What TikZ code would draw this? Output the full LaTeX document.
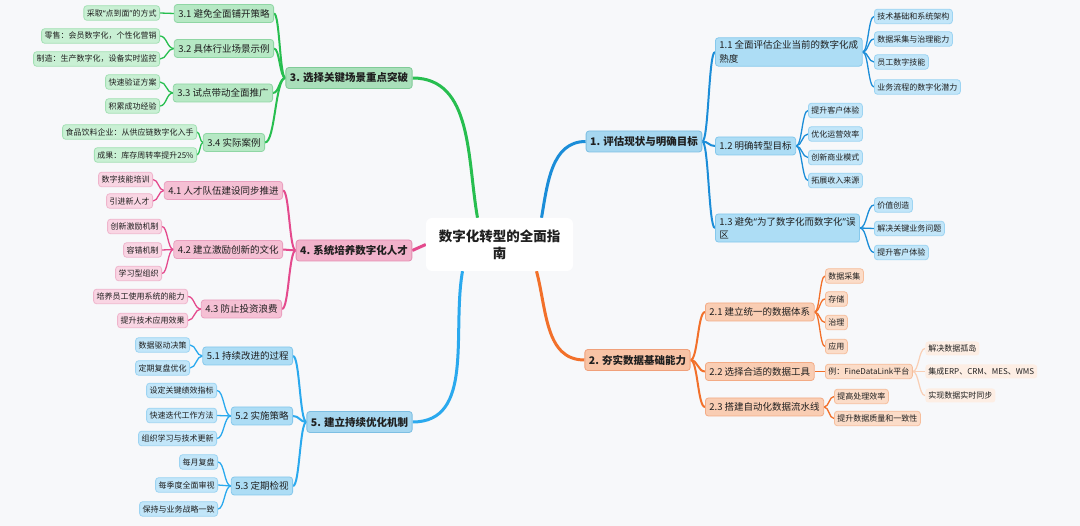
\documentclass[tikz,border=0pt]{standalone}
\usepackage{fontspec}
\setmainfont{Noto Sans CJK SC}
\newfontfamily\latinq{Noto Sans}
\newcommand\qopen{{\latinq “}}
\newcommand\qclose{{\latinq ”}}
\usetikzlibrary{calc,backgrounds}
\definecolor{bg}{HTML}{F7F8FA}
\definecolor{txt}{HTML}{1F1F1F}
% blue
\definecolor{bluL}{HTML}{1B8DD8}
\definecolor{bluA}{HTML}{A6D7F0}\definecolor{bluAb}{HTML}{7DBFE3}
\definecolor{bluB}{HTML}{ADDDF5}\definecolor{bluBb}{HTML}{85C8EC}
\definecolor{bluC}{HTML}{C2E6F9}\definecolor{bluCb}{HTML}{9DD4F2}
% light blue (branch 5)
\definecolor{lblL}{HTML}{2AA9EE}
\definecolor{lblA}{HTML}{A6D7F0}\definecolor{lblAb}{HTML}{7DBFE3}
\definecolor{lblB}{HTML}{ADDDF5}\definecolor{lblBb}{HTML}{85C8EC}
\definecolor{lblC}{HTML}{C2E6F9}\definecolor{lblCb}{HTML}{9DD4F2}
% orange
\definecolor{oraL}{HTML}{F2702A}
\definecolor{oraA}{HTML}{F8C3A5}\definecolor{oraAb}{HTML}{F0A07A}
\definecolor{oraB}{HTML}{F9CDB3}\definecolor{oraBb}{HTML}{F3AB85}
\definecolor{oraC}{HTML}{FBDCC8}\definecolor{oraCb}{HTML}{F6BE9C}
\definecolor{oraD}{HTML}{FDEEE4}\definecolor{oraDL}{HTML}{F9CFB5}
% green
\definecolor{grnL}{HTML}{27BE4F}
\definecolor{grnA}{HTML}{A9DFBA}\definecolor{grnAb}{HTML}{80CB97}
\definecolor{grnB}{HTML}{B6E8C4}\definecolor{grnBb}{HTML}{8FD6A4}
\definecolor{grnC}{HTML}{C9F0D4}\definecolor{grnCb}{HTML}{A3E0B4}
% pink
\definecolor{pnkL}{HTML}{E44A8D}
\definecolor{pnkA}{HTML}{F2B2CB}\definecolor{pnkAb}{HTML}{E48DB1}
\definecolor{pnkB}{HTML}{F5C0D4}\definecolor{pnkBb}{HTML}{EAA0BF}
\definecolor{pnkC}{HTML}{F9D5E3}\definecolor{pnkCb}{HTML}{EFB5CC}
\tikzset{
  base/.style={rounded corners=3pt, text=txt, line width=0.8pt, inner ysep=1pt, align=left},
  root/.style={fill=white, rounded corners=6pt, minimum width=147pt, minimum height=53pt,
    align=center, text=txt, font=\bfseries\fontsize{13.5}{17}\selectfont},
  lvA/.style={base, font=\bfseries\fontsize{10.5}{12.5}\selectfont, minimum height=21pt, inner xsep=4pt, fill=#1A, draw=#1Ab},
  lvB/.style={base, font=\fontsize{9.5}{13.5}\selectfont, minimum height=18pt, inner xsep=4pt, fill=#1B, draw=#1Bb},
  two/.style={inner ysep=3pt},
  lvC/.style={base, font=\fontsize{8}{10}\selectfont, minimum height=14.5pt, inner xsep=3pt, fill=#1C, draw=#1Cb},
  lvD/.style={base, font=\fontsize{8}{10}\selectfont, minimum height=14pt, inner xsep=3pt, fill=#1D},
  lnA/.style={draw=#1L, line width=3pt},
  lnB/.style={draw=#1L, line width=2pt},
  lnC/.style={draw=#1L, line width=1.3pt},
  lnD/.style={draw=#1DL, line width=1.2pt},
  mm/.style={to path={let \p1=(\tikztostart), \p2=(\tikztotarget), \p3=($(\p1)!0.5!(\p2)$) in
     .. controls (\x3,\y1) and (\x3,\y2) .. (\tikztotarget)}},
}
\begin{document}
\begin{tikzpicture}[x=1pt,y=-1pt]
\useasboundingbox (0,0) rectangle (1080,526);
% root
\node[root] (root) at (499.5,244.5) {数字化转型的全面指\\南};
% branches
\node[lvA=blu] (b1) at (644,141.5) {1. 评估现状与明确目标};
\node[lvA=ora] (b2) at (637.5,360) {2. 夯实数据基础能力};
\node[lvA=grn] (b3) at (349,78) {3. 选择关键场景重点突破};
\node[lvA=pnk] (b4) at (354,250.5) {4. 系统培养数字化人才};
\node[lvA=lbl] (b5) at (359.5,422) {5. 建立持续优化机制};
% branch 1
\begin{scope}[every node/.style={anchor=west}]
\node[lvB=blu,two] (s11) at (715,52) {1.1 全面评估企业当前的数字化成\\熟度};
\node[lvB=blu] (s12) at (715,146) {1.2 明确转型目标};
\node[lvB=blu,two] (s13) at (715,228) {1.3 避免\qopen 为了数字化而数字化\qclose 误\\区};
\node[lvC=blu] (l111) at (874,16.5) {技术基础和系统架构};
\node[lvC=blu] (l112) at (874,39) {数据采集与治理能力};
\node[lvC=blu] (l113) at (874,62) {员工数字技能};
\node[lvC=blu] (l114) at (874,87) {业务流程的数字化潜力};
\node[lvC=blu] (l121) at (808,110.5) {提升客户体验};
\node[lvC=blu] (l122) at (808,134) {优化运营效率};
\node[lvC=blu] (l123) at (808,157.5) {创新商业模式};
\node[lvC=blu] (l124) at (808,180.5) {拓展收入来源};
\node[lvC=blu] (l131) at (874,205) {价值创造};
\node[lvC=blu] (l132) at (874,228.5) {解决关键业务问题};
\node[lvC=blu] (l133) at (874,252.5) {提升客户体验};
% branch 2
\node[lvB=ora] (s21) at (705,312) {2.1 建立统一的数据体系};
\node[lvB=ora] (s22) at (705,371.5) {2.2 选择合适的数据工具};
\node[lvB=ora] (s23) at (705,407) {2.3 搭建自动化数据流水线};
\node[lvC=ora] (l211) at (825,276) {数据采集};
\node[lvC=ora] (l212) at (825,299) {存储};
\node[lvC=ora] (l213) at (825,322.5) {治理};
\node[lvC=ora] (l214) at (825,346.5) {应用};
\node[lvC=ora] (l221) at (825,371.5) {例：FineDataLink平台};
\node[lvD=ora] (l2211) at (925,348.5) {解决数据孤岛};
\node[lvD=ora] (l2212) at (925,371.5) {集成ERP、CRM、MES、WMS};
\node[lvD=ora] (l2213) at (925,395.5) {实现数据实时同步};
\node[lvC=ora] (l231) at (834,396.5) {提高处理效率};
\node[lvC=ora] (l232) at (834,418.5) {提升数据质量和一致性};
\end{scope}
\begin{scope}[every node/.style={anchor=east}]
% branch 3
\node[lvB=grn] (s31) at (274,13.5) {3.1 避免全面铺开策略};
\node[lvB=grn] (s32) at (274,48.5) {3.2 具体行业场景示例};
\node[lvB=grn] (s33) at (273,93) {3.3 试点带动全面推广};
\node[lvB=grn] (s34) at (265,142.5) {3.4 实际案例};
\node[lvC=grn] (l311) at (160,13) {采取\qopen 点到面\qclose 的方式};
\node[lvC=grn] (l321) at (160,36) {零售：会员数字化，个性化营销};
\node[lvC=grn] (l322) at (160,59) {制造：生产数字化，设备实时监控};
\node[lvC=grn] (l331) at (160,82) {快速验证方案};
\node[lvC=grn] (l332) at (160,106) {积累成功经验};
\node[lvC=grn] (l341) at (197,132) {食品饮料企业：从供应链数字化入手};
\node[lvC=grn] (l342) at (197,155) {成果：库存周转率提升25\%};
% branch 4
\node[lvB=pnk] (s41) at (283,190.5) {4.1 人才队伍建设同步推进};
\node[lvB=pnk] (s42) at (283,249.5) {4.2 建立激励创新的文化};
\node[lvB=pnk] (s43) at (282,309) {4.3 防止投资浪费};
\node[lvC=pnk] (l411) at (153,179.5) {数字技能培训};
\node[lvC=pnk] (l412) at (153,201) {引进新人才};
\node[lvC=pnk] (l421) at (162,226.5) {创新激励机制};
\node[lvC=pnk] (l422) at (162,250) {容错机制};
\node[lvC=pnk] (l423) at (162,273.5) {学习型组织};
\node[lvC=pnk] (l431) at (188,296.5) {培养员工使用系统的能力};
\node[lvC=pnk] (l432) at (188,320.5) {提升技术应用效果};
% branch 5
\node[lvB=lbl] (s51) at (293,356) {5.1 持续改进的过程};
\node[lvB=lbl] (s52) at (293,416) {5.2 实施策略};
\node[lvB=lbl] (s53) at (293,486) {5.3 定期检视};
\node[lvC=lbl] (l511) at (190,345) {数据驱动决策};
\node[lvC=lbl] (l512) at (190,368) {定期复盘优化};
\node[lvC=lbl] (l521) at (217,390.5) {设定关键绩效指标};
\node[lvC=lbl] (l522) at (217,415.5) {快速迭代工作方法};
\node[lvC=lbl] (l523) at (217,438.5) {组织学习与技术更新};
\node[lvC=lbl] (l531) at (218,462) {每月复盘};
\node[lvC=lbl] (l532) at (218,485) {每季度全面审视};
\node[lvC=lbl] (l533) at (218,509) {保持与业务战略一致};
\end{scope}
\begin{scope}[on background layer]
\fill[bg] (0,0) rectangle (1080,526);
% root to branches
\draw[lnA=blu] ([xshift=42]root.north) to[out=80,in=180] (b1.west);
\draw[lnA=ora] ([xshift=37]root.south) to[out=-75,in=180] (b2.west);
\draw[lnA=grn] (b3.east) to[out=0,in=100] ([xshift=-22]root.north);
\draw[lnA=pnk] (b4.east) -- (root.west);
\draw[lnA=lbl] (b5.east) to[out=0,in=-100] ([xshift=-37]root.south);
% right side
\foreach \s in {s11,s12,s13} \draw[lnB=blu] (b1.east) to[mm] (\s.west);
\foreach \l in {l111,l112,l113,l114} \draw[lnC=blu] (s11.east) to[mm] (\l.west);
\foreach \l in {l121,l122,l123,l124} \draw[lnC=blu] (s12.east) to[mm] (\l.west);
\foreach \l in {l131,l132,l133} \draw[lnC=blu] (s13.east) to[mm] (\l.west);
\foreach \s in {s21,s22,s23} \draw[lnB=ora] (b2.east) to[mm] (\s.west);
\foreach \l in {l211,l212,l213,l214} \draw[lnC=ora] (s21.east) to[mm] (\l.west);
\draw[lnC=ora] (s22.east) to[mm] (l221.west);
\foreach \l in {l231,l232} \draw[lnC=ora] (s23.east) to[mm] (\l.west);
\foreach \l in {l2211,l2212,l2213} \draw[lnD=ora] (l221.east) to[mm] (\l.west);
% left side
\foreach \s in {s31,s32,s33,s34} \draw[lnB=grn] (b3.west) to[mm] (\s.east);
\draw[lnC=grn] (s31.west) to[mm] (l311.east);
\foreach \l in {l321,l322} \draw[lnC=grn] (s32.west) to[mm] (\l.east);
\foreach \l in {l331,l332} \draw[lnC=grn] (s33.west) to[mm] (\l.east);
\foreach \l in {l341,l342} \draw[lnC=grn] (s34.west) to[mm] (\l.east);
\foreach \s in {s41,s42,s43} \draw[lnB=pnk] (b4.west) to[mm] (\s.east);
\foreach \l in {l411,l412} \draw[lnC=pnk] (s41.west) to[mm] (\l.east);
\foreach \l in {l421,l422,l423} \draw[lnC=pnk] (s42.west) to[mm] (\l.east);
\foreach \l in {l431,l432} \draw[lnC=pnk] (s43.west) to[mm] (\l.east);
\foreach \s in {s51,s52,s53} \draw[lnB=lbl] (b5.west) to[mm] (\s.east);
\foreach \l in {l511,l512} \draw[lnC=lbl] (s51.west) to[mm] (\l.east);
\foreach \l in {l521,l522,l523} \draw[lnC=lbl] (s52.west) to[mm] (\l.east);
\foreach \l in {l531,l532,l533} \draw[lnC=lbl] (s53.west) to[mm] (\l.east);
\end{scope}
\end{tikzpicture}
\end{document}
